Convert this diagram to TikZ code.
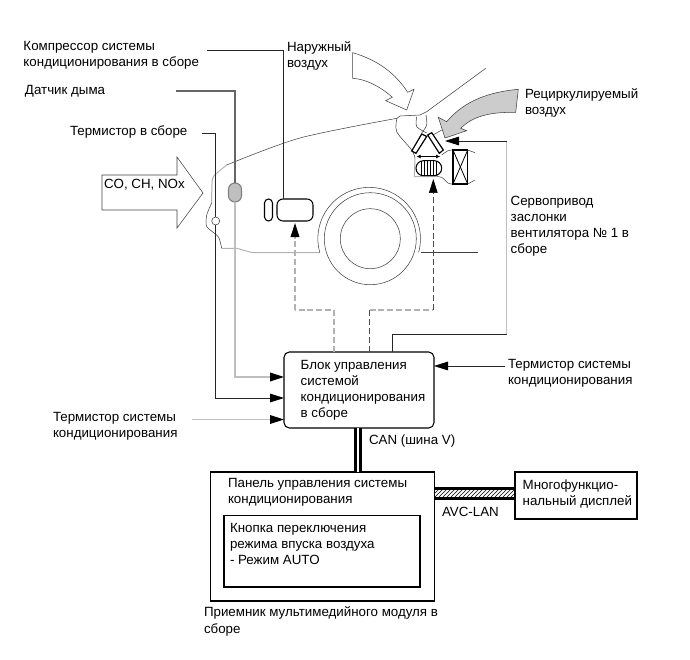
\documentclass[tikz,border=0pt]{standalone}
\usepackage{fontspec}
\setmainfont{Liberation Sans}
\usetikzlibrary{arrows.meta,patterns}

\tikzset{every picture/.style={line width=0.75pt}}
\tikzset{
  lbl/.style={anchor=west,inner sep=0pt,outer sep=0pt,align=left,yshift=-1.2pt,font=\fontsize{10}{12}\selectfont},
  boxnode/.style={draw,anchor=north west,inner sep=0pt,outer sep=0pt,line width=0.8pt},
  outlinedark/.style={draw=black!75,line width=0.4pt},
  outlinelight/.style={draw=black!30,line width=0.75pt},
  leaddark/.style={draw=black!85,line width=0.6pt},
  leadgrey/.style={draw=black!25,line width=1.1pt},
  leadmid/.style={draw=black!60,line width=1.1pt},
  dashthin/.style={draw=black!70,line width=0.5pt,dash pattern={on 4.5pt off 2.2pt}},
  dashgrey/.style={draw=black!30,line width=0.9pt,dash pattern={on 4.5pt off 2.2pt}},
  tipin/.style={-{Triangle[length=10.5pt,width=6.5pt,black]}},
}

\begin{document}
\begin{tikzpicture}[x=0.75pt,y=0.75pt,yscale=-1,xscale=1]
	\useasboundingbox (0,0) rectangle (690,660);

	% Body outline
	\draw [outlinelight] plot [smooth,tension=0.5] coordinates {(226.7,165) (216.7,173.3) (212.3,180) (211.7,203)};
	\draw [outlinedark] plot [smooth,tension=0.5] coordinates {(397,118.3) (300,138) (226.7,165)};
	\draw [outlinedark] plot [smooth,tension=0.4] coordinates {(211.7,203) (206.7,215) (206.7,226.7) (218.3,236.7) (221.7,248.3)};
	\draw [outlinelight] (221.7,248.3) -- (236.7,248.3) -- (251.7,252.5) -- (320,252.5);
	\draw [outlinedark] (420.5,252.5) -- (478,252.5);

	% Wheel
	\node (wheelouter) [circle,outlinedark,minimum size=92*0.75pt,inner sep=0pt] at (370.3,238.7) {};
	\node (wheelinner) [circle,outlinedark,minimum size=60*0.75pt,inner sep=0pt] at (370.3,238.7) {};
	\draw [outlinedark] (319.7,252.3) arc [start angle=164.6,end angle=375.4,radius=51.3];

	% Duct and hood
	\draw [outlinedark] (397,118.3) -- (400,116) -- (420,115) -- (426.7,111.7) -- (485.7,68.3);
	\draw [outlinedark] plot [smooth,tension=0.5] coordinates {(397,118.3) (396.7,131.7) (411.7,150) (415,158)};
	\draw [outlinelight] (415,158) -- (414.3,176.7) -- (436.7,176.7);
	\draw [outlinedark] plot [smooth,tension=0.5] coordinates {(416.7,116.7) (416.7,126.7) (426.7,133)};
	\draw [outlinedark] plot [smooth,tension=0.5] coordinates {(426,115) (426.7,125) (421.7,133)};
	\draw [outlinedark] (433,135) -- (441.7,130);
	\draw [outlinedark] plot [smooth,tension=0.5] coordinates {(436.7,176.7) (441.7,177.3) (448.3,183.3) (453,184)};
	\draw [outlinedark] plot [smooth,tension=0.5] coordinates {(441.7,155) (448,150.7) (453,150)};
	\draw [outlinedark] plot [smooth,tension=0.5] coordinates {(467.7,150) (475,152.7)};
	\draw [outlinedark] plot [smooth,tension=0.5] coordinates {(467.7,184) (475,180)};

	% Outside air
	\draw [outlinedark,fill=white] (352.7,52.7) -- (352.7,78.3) .. controls (365,79) and (380,86) .. (392.3,97.3) -- (385.7,100.7) -- (406.7,110) -- (414,89.3) -- (407.7,92.3) .. controls (396,74) and (378,60) .. cycle;
	% Recirculated air
	\draw [outlinedark,fill=black!20] (438.3,117.3) -- (445,138) -- (466.7,130.7) -- (460.7,128.3) .. controls (473,116) and (490,112) .. (515.7,112.3) -- (518.3,89.3) .. controls (490,92) and (465,100) .. (446.7,121.7) -- cycle;
	% Intake dampers
	\draw [line width=0.9pt,fill=white] (411.7,151) -- (421.7,134) -- (426.7,136.5) -- (416,153.3) -- cycle;
	\draw [line width=0.9pt,fill=white] (427.7,135) -- (431.7,132.7) -- (443.3,150) -- (439.3,153.3) -- cycle;
	\draw [{Latex[length=3pt,width=3pt]}-{Latex[length=3pt,width=3pt]},line width=0.4pt] (416.7,156.5) -- (440,156.5);

	% Filter
	\node (airfilter) [boxnode,minimum width=25.7*0.75pt,minimum height=15*0.75pt,rounded corners=5.6pt] at (416,160.7) {};
	\foreach \xa in {421,424,...,437} {
		\draw [line width=0.6pt] (\xa,161) -- (\xa,175.4);
	}
	% Blower
	\node (blower) [boxnode,minimum width=14.7*0.75pt,minimum height=34*0.75pt] at (453,150) {};
	\draw [line width=0.6pt] (blower.north west) -- (blower.south east);
	\draw [line width=0.6pt] (blower.north east) -- (blower.south west);

	% Sensors and compressor
	\node (smokesensor) [boxnode,draw=black!50,fill=black!25,minimum width=13*0.75pt,minimum height=19*0.75pt,rounded corners=4.8pt] at (228.5,183) {};
	\node (thermistor) [circle,outlinedark,minimum size=8*0.75pt,inner sep=0pt] at (215.7,221) {};
	\node (clutch) [boxnode,minimum width=8*0.75pt,minimum height=22*0.75pt,rounded corners=3pt] at (264.5,199) {};
	\node (compressor) [boxnode,minimum width=36*0.75pt,minimum height=22*0.75pt,rounded corners=4.5pt] at (277,199) {};

	% Blocks
	\node (unit) [boxnode,minimum width=150*0.75pt,minimum height=76*0.75pt,rounded corners=4pt] at (284,352) {};
	\node (panel) [boxnode,minimum width=223.6*0.75pt,minimum height=129*0.75pt] at (210.7,472) {};
	\node (switchbox) [boxnode,minimum width=196*0.75pt,minimum height=71.3*0.75pt] at (224,515.7) {};
	\node (display) [boxnode,minimum width=122*0.75pt,minimum height=47*0.75pt] at (515,472) {};

	% Free ends
	\coordinate (compend) at (207,50);
	\coordinate (smokeend) at (176,91);
	\coordinate (thermend) at (202,133);
	\coordinate (roomend) at (192,419.5);
	\coordinate (ambend) at (505,366);
	\coordinate (leftcorner) at (295,310);
	\coordinate (rightcorner) at (433.3,310);
	\coordinate (servocorner) at (392,334);
	\coordinate (servotop) at (506.5,141);

	% Lead lines
	\draw [leaddark] (compend) -| (283,199);
	\draw [leadmid] (smokeend) -| (smokesensor.north);
	\draw [leaddark] (thermend) -| (thermistor.north);
	\draw [leaddark,tipin] (thermistor.south) |- (unit.west |- 0,398);
	\draw [leadgrey,tipin] (smokesensor.south) |- (unit.west |- 0,377);
	\draw [leadgrey,tipin] (roomend) -- (unit.west |- roomend);
	\draw [leaddark,tipin] (ambend) -- (unit.east |- ambend);

	% Servo line
	\draw [leaddark] (unit.north -| servocorner) -- (servocorner) -- (servocorner -| servotop);
	\draw [leadgrey] (servocorner -| servotop) -- (servotop);
	\draw [leaddark,tipin] (servotop) -- (445,141);

	% Dashed control lines
	\draw [dashgrey] (unit.north -| 334,0) -- (334,310) -- (leftcorner);
	\draw [dashgrey,tipin] (leftcorner) -- (295,223);
	\draw [dashthin] (unit.north -| 369.5,0) -- (369.5,310);
	\draw [dashgrey] (369.5,310) -- (rightcorner);
	\draw [dashthin,tipin] (rightcorner) -- (433.3,179);

	% CAN and AVC-LAN
	\draw [line width=2.6pt,double=white,double distance=1.5pt] (unit.south -| 358,0) -- (panel.north -| 358,0);
	\path [pattern=north east lines] (434.3,489) rectangle (515,498.5);
	\draw [line width=2.2pt] (434.3,488.5) -- (515,488.5);
	\draw [line width=2.2pt] (434.3,498.5) -- (515,498.5);

	% CO, CH, NOx arrow
	\draw [outlinedark] (102,175) -- (177,175) -- (177,157) -- (203,193) -- (177,228) -- (177,210) -- (102,210) -- cycle;

	% Text Node
	\node (complbl) [lbl] at (23.5,53.7) {Компрессор системы\\кондиционирования в сборе};
	\node (smokelbl) [lbl] at (25,90) {Датчик дыма};
	\node (thermlbl) [lbl] at (70,130) {Термистор в сборе};
	\node (outlbl) [lbl] at (287,54) {Наружный\\воздух};
	\node (recirclbl) [lbl] at (525,101) {Рециркулируемый\\воздух};
	\node (gaslbl) [lbl] at (104,183) {CO, CH, NOx};
	\node (servolbl) [lbl] at (510.7,224.5) {Сервопривод\\заслонки\\вентилятора № 1 в\\сборе};
	\node (amblbl) [lbl] at (508,372) {Термистор системы\\кондиционирования};
	\node (roomlbl) [lbl] at (53,425) {Термистор системы\\кондиционирования};
	\node (unitlbl) [lbl] at (300.7,389) {Блок управления\\системой\\кондиционирования\\в сборе};
	\node (canlbl) [lbl] at (369,439) {CAN (шина V)};
	\node (panellbl) [lbl] at (228,491) {Панель управления системы\\кондиционирования};
	\node (switchlbl) [lbl] at (230,542) {Кнопка переключения\\режима впуска воздуха\\- Режим AUTO};
	\node (avclbl) [lbl] at (442,510) {AVC-LAN};
	\node (displaylbl) [lbl] at (522.7,492) {Многофункцио-\\нальный дисплей};
	\node (recvlbl) [lbl] at (204,620) {Приемник мультимедийного модуля в\\[1pt]сборе};

\end{tikzpicture}
\end{document}
